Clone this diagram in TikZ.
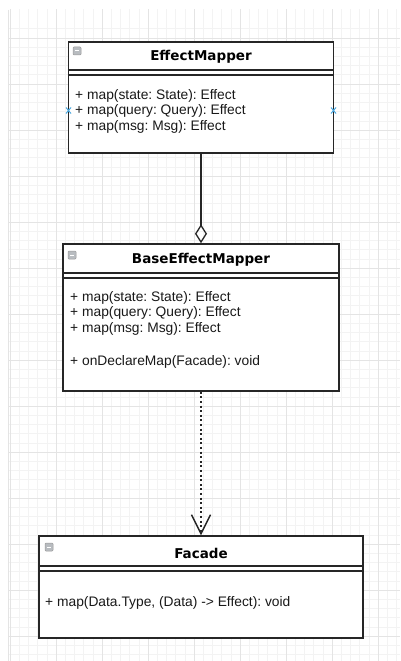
\documentclass[tikz,border=0pt]{standalone}
\usepackage{fontspec}
\setmainfont{Liberation Sans}
\newfontfamily\titlefont{DejaVu Sans}
\usetikzlibrary{arrows.meta,calc}
\definecolor{gridminor}{HTML}{F3F3F3}
\definecolor{gridmajor}{HTML}{E4E4E4}
\definecolor{boxline}{HTML}{262626}
\definecolor{iconfill}{HTML}{B8BCC0}
\definecolor{pinblue}{HTML}{4AA8E0}
\tikzset{
  classbox/.style={draw=boxline, line width=1.5pt, fill=white, inner sep=0pt},
  title/.style={font=\titlefont\bfseries\fontsize{13.5}{15}\selectfont, text=black, inner sep=0pt},
  member/.style={font=\frenchspacing\fontsize{13.8}{15}\selectfont, text=black!90, anchor=west, inner sep=0pt},
  sepline/.style={draw=boxline, line width=1.2pt},
  collapse/.style={draw=gray!80, fill=iconfill, rounded corners=1pt, line width=0.5pt},
  conn/.style={draw=boxline, line width=1.5pt},
  pin/.style={draw=pinblue, line width=1pt},
}
\newcommand{\collapseicon}[2]{%
  \filldraw[collapse] (#1,#2) rectangle ++(8,8);
  \draw[white, line width=1pt] ($(#1,#2)+(2,4)$) -- ++(4,0);}
\begin{document}
\begin{tikzpicture}[x=1pt,y=-1pt]
\useasboundingbox (0,0) rectangle (400,661);
\fill[white] (0,0) rectangle (400,661);
% background grid
\begin{scope}
  \clip (8,10) rectangle (400,661);
  \foreach \i in {-1,...,44} {
    \draw[gridminor, line width=0.6pt] ({10+9.2*\i},0) -- ++(0,661);
  }
  \foreach \i in {-1,...,72} {
    \draw[gridminor, line width=0.6pt] (0,{38+9.2*\i}) -- ++(400,0);
  }
  \foreach \i in {0,...,9} {
    \draw[gridmajor, line width=0.8pt] ({10+46*\i},0) -- ++(0,661);
  }
  \foreach \i in {-1,...,14} {
    \draw[gridmajor, line width=0.8pt] (0,{38+46*\i}) -- ++(400,0);
  }
  \draw[gridmajor, line width=1pt] (8,10) -- (8,661);
\end{scope}

% EffectMapper
\node[classbox, minimum width=265pt, minimum height=111pt] (em) at (201,97.5) {};
\node[title] (emt) at (201,57) {EffectMapper};
\draw[sepline] (em.west |- 0,70) -- (em.east |- 0,70);
\draw[sepline] (em.west |- 0,75) -- (em.east |- 0,75);
\collapseicon{73}{47}
\node[member] (em1) at (75,96) {+ map(state: State): Effect};
\node[member] (em2) at (75,111) {+ map(query: Query): Effect};
\node[member] (em3) at (75,127) {+ map(msg: Msg): Effect};
\foreach \px in {68.5,333.5} {
  \draw[pin] (\px-2.5,107.5) -- (\px+2.5,113.5) (\px-2.5,113.5) -- (\px+2.5,107.5);
}

% BaseEffectMapper
\node[classbox, minimum width=276pt, minimum height=147pt] (bem) at (201,317.5) {};
\node[title] (bemt) at (201,260) {BaseEffectMapper};
\draw[sepline] (bem.west |- 0,273) -- (bem.east |- 0,273);
\draw[sepline] (bem.west |- 0,278) -- (bem.east |- 0,278);
\collapseicon{68}{251}
\node[member] (bem1) at (70,298) {+ map(state: State): Effect};
\node[member] (bem2) at (70,313) {+ map(query: Query): Effect};
\node[member] (bem3) at (70,329) {+ map(msg: Msg): Effect};
\node[member] (bem4) at (70,362) {+ onDeclareMap(Facade): void};

% Facade
\node[classbox, minimum width=324pt, minimum height=102pt] (fac) at (201,587) {};
\node[title] (fact) at (201,553) {Facade};
\draw[sepline] (fac.west |- 0,566) -- (fac.east |- 0,566);
\draw[sepline] (fac.west |- 0,571) -- (fac.east |- 0,571);
\collapseicon{45}{543}
\node[member] (fac1) at (45,603) {+ map(Data.Type, (Data) -> Effect): void};

% aggregation: EffectMapper <>-- BaseEffectMapper
\draw[conn, -{Diamond[open, length=19pt, width=12pt, line width=1.3pt]}] (em.south) -- (bem.north);
% dependency: BaseEffectMapper ..> Facade
\draw[conn, dash pattern=on 2pt off 2.6pt, -{Straight Barb[length=19pt, width=19pt, line width=1.4pt]}] (bem.south) -- (fac.north);
\end{tikzpicture}
\end{document}
